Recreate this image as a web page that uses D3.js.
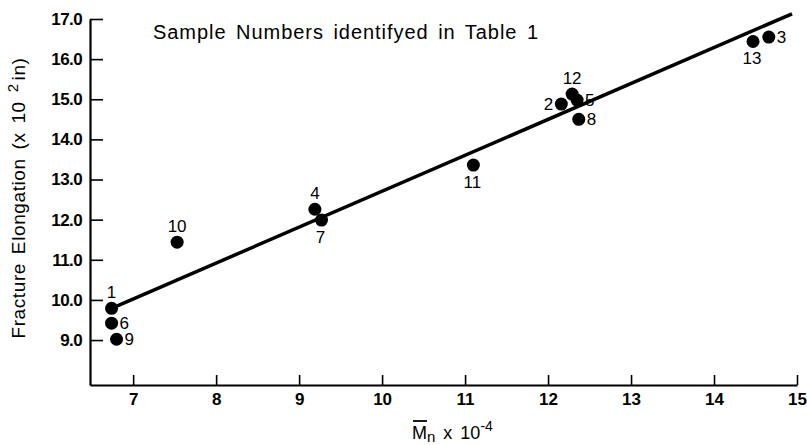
<!DOCTYPE html>
<html>
<head>
<meta charset="utf-8">
<script src="https://cdn.jsdelivr.net/npm/d3@7"></script>
<style>
  html, body { margin: 0; padding: 0; background: #fff; }
  svg { display: block; }
  text { font-family: "Liberation Sans", Arial, sans-serif; fill: #000; }
</style>
</head>
<body>
<svg id="chart" width="807" height="445"></svg>
<script>
// ---- data ----
const sampleIds = ["1","2","3","4","5","6","7","8","9","10","11","12","13"];
const mnValues  = [6.74, 12.16, 14.66, 9.19, 12.35, 6.74, 9.27, 12.37, 6.80, 7.53, 11.10, 12.29, 14.47];
const elongValues = [9.79, 14.88, 16.55, 12.26, 14.98, 9.42, 11.99, 14.50, 9.02, 11.44, 13.36, 15.13, 16.44];
const labelSide = ["above","left","right","above","right","right","below","right","right","above","below","above","below"];
const fitLineX = [6.74, 14.94];
const fitLineY = [9.79, 17.13];
const xTicks = [7, 8, 9, 10, 11, 12, 13, 14, 15];
const yTicks = [9, 10, 11, 12, 13, 14, 15, 16, 17];
const titleText = "Sample Numbers identifyed in Table 1";

// ---- chart ----
const svg = d3.select("#chart");
const x = d3.scaleLinear().domain([6.48, 15]).range([90, 797]);
const y = d3.scaleLinear().domain([7.88, 17.0]).range([385, 19]);

// axes
const xAxis = d3.axisBottom(x).tickValues(xTicks).tickFormat(d3.format("d"))
  .tickSizeInner(-10).tickSizeOuter(0).tickPadding(8);
const yAxis = d3.axisLeft(y).tickValues(yTicks).tickFormat(d3.format(".1f"))
  .tickSizeInner(-13).tickSizeOuter(0).tickPadding(8);

const gx = svg.append("g").attr("transform", "translate(0,385)").call(xAxis);
const gy = svg.append("g").attr("transform", "translate(90,0)").call(yAxis);
[gx, gy].forEach(g => {
  g.selectAll("path.domain").attr("stroke", "#000").attr("stroke-width", 2.2);
  g.selectAll(".tick line").attr("stroke", "#000").attr("stroke-width", 1.6);
  g.selectAll(".tick text").attr("font-size", 17).attr("font-weight", "bold")
    .attr("font-family", "'Liberation Sans', Arial, sans-serif").attr("fill", "#000");
});
gy.selectAll(".tick text").attr("letter-spacing", -0.6);

// fit line
svg.append("line")
  .attr("x1", x(fitLineX[0])).attr("y1", y(fitLineY[0]))
  .attr("x2", x(fitLineX[1])).attr("y2", y(fitLineY[1]))
  .attr("stroke", "#000").attr("stroke-width", 3.5).attr("stroke-linecap", "butt");

// points
const pts = sampleIds.map((id, i) => ({ id, mn: mnValues[i], e: elongValues[i], side: labelSide[i] }));
svg.append("g").selectAll("circle").data(pts).join("circle")
  .attr("cx", d => x(d.mn)).attr("cy", d => y(d.e)).attr("r", 6.5).attr("fill", "#000");

// labels
const off = {
  above: { dx: 0, dy: -16, anchor: "middle" },
  below: { dx: -1, dy: 17, anchor: "middle" },
  right: { dx: 8, dy: 0, anchor: "start" },
  left:  { dx: -8, dy: 0, anchor: "end" }
};
svg.append("g").selectAll("text").data(pts).join("text")
  .attr("x", d => x(d.mn) + off[d.side].dx)
  .attr("y", d => y(d.e) + off[d.side].dy)
  .attr("text-anchor", d => off[d.side].anchor)
  .attr("dominant-baseline", "central")
  .attr("font-size", 17)
  .text(d => d.id);

// title
svg.append("text").attr("x", 153).attr("y", 39)
  .attr("font-size", 20).attr("textLength", 385).attr("lengthAdjust", "spacing")
  .attr("word-spacing", 3)
  .text(titleText);

// y axis title
const yt = svg.append("text")
  .attr("transform", "translate(25,198) rotate(-90)")
  .attr("text-anchor", "middle").attr("font-size", 19)
  .attr("letter-spacing", 0.6)
  .attr("word-spacing", 3);
yt.append("tspan").text("Fracture Elongation (x 10 ");
yt.append("tspan").attr("dy", -7).attr("font-size", 15).text("2");
yt.append("tspan").attr("dy", 7).attr("dx", 3).text("in)");

// x axis title
const xtG = svg.append("g");
const xt = xtG.append("text").attr("x", 412).attr("y", 439).attr("font-size", 18)
  .attr("word-spacing", 3);
xt.append("tspan").text("M");
xt.append("tspan").attr("font-size", 15).attr("dy", 3).text("n");
xt.append("tspan").attr("dy", -3).text(" x 10");
xt.append("tspan").attr("font-size", 14).attr("dy", -8).text("-4");
// overline on M
xtG.append("line").attr("x1", 413).attr("x2", 427).attr("y1", 421).attr("y2", 421)
  .attr("stroke", "#000").attr("stroke-width", 1.8);
</script>
</body>
</html>
